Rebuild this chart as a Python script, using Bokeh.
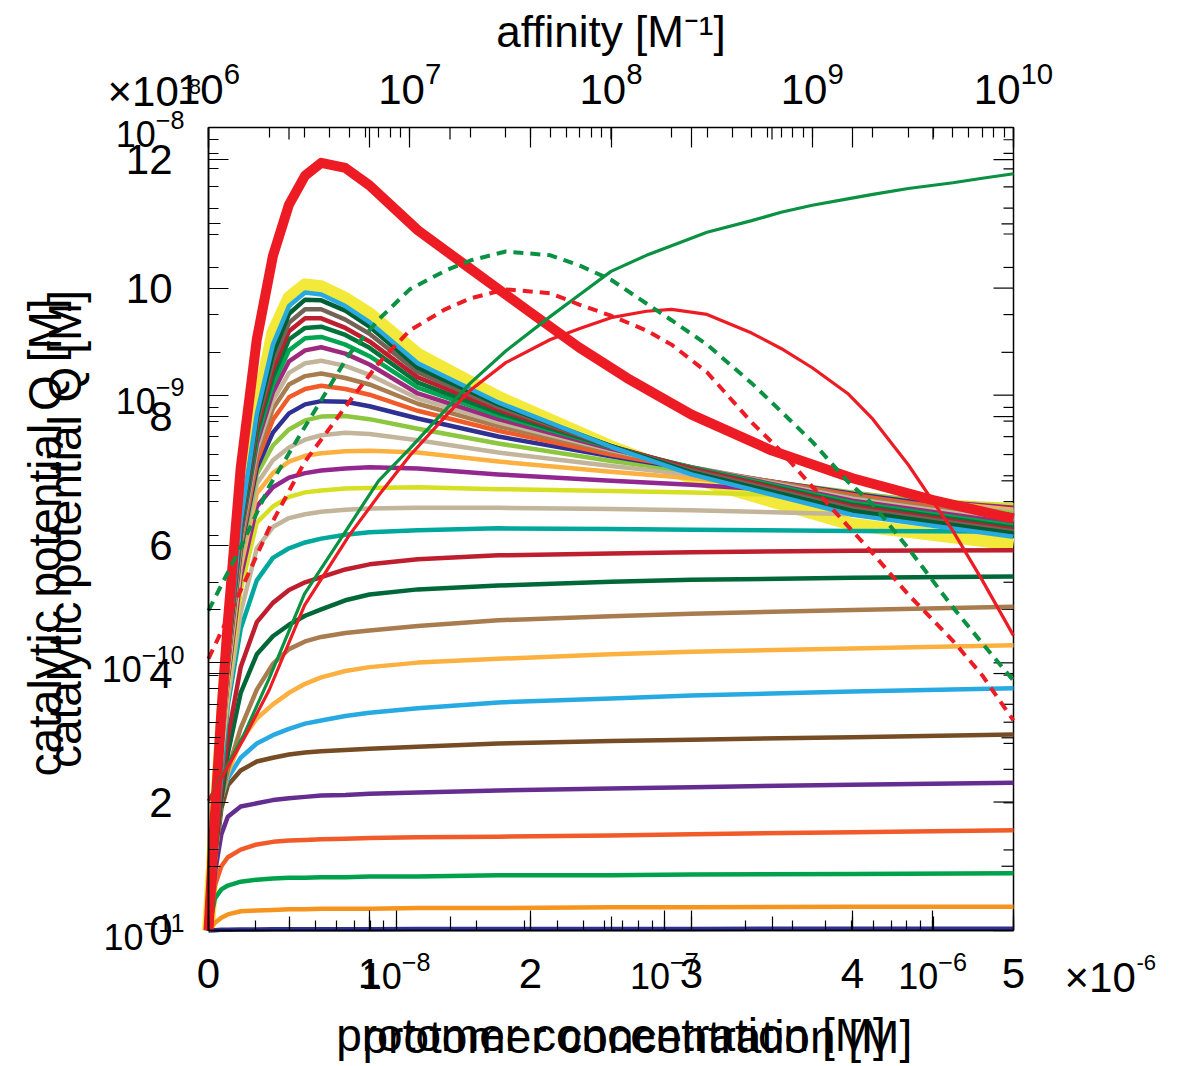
import math
from bokeh.plotting import figure
from bokeh.models import (Range1d, LogScale, LinearAxis, LogAxis, SingleIntervalTicker,
                          LogTicker, Label)
from bokeh.embed import file_html
from bokeh.resources import INLINE

# ---------------- data ----------------
# protomer concentration (bottom linear axis), units of 1e-6 M
conc = [0, 0.04, 0.08, 0.12, 0.2, 0.3, 0.4, 0.5, 0.6, 0.7, 0.85, 1.0, 1.3, 1.8, 2.5, 3.0, 4.0, 5.0]

# catalytic potential Q (left linear axis), units of 1e-8 M
# saturating curves (bottom family)
q_sat_navy    = [0, .005, .01, .012, .015, .017, .018, .019, .02, .02, .021, .021, .022, .023, .024, .025, .026, .027]
q_sat_orange  = [0, .12, .20, .25, .30, .31, .32, .33, .33, .34, .34, .34, .35, .35, .36, .36, .37, .37]
q_sat_green   = [0, .50, .64, .70, .76, .79, .81, .82, .82, .83, .83, .84, .84, .86, .86, .87, .88, .89]
q_sat_orred   = [0, .70, 1.0, 1.14, 1.26, 1.34, 1.38, 1.40, 1.41, 1.42, 1.43, 1.44, 1.45, 1.46, 1.48, 1.50, 1.53, 1.56]
q_sat_purple  = [0, .9, 1.5, 1.77, 1.93, 1.98, 2.03, 2.06, 2.08, 2.10, 2.11, 2.13, 2.15, 2.18, 2.21, 2.23, 2.27, 2.30]
q_sat_brown   = [0, 1.05, 1.9, 2.26, 2.49, 2.63, 2.69, 2.74, 2.77, 2.79, 2.81, 2.83, 2.86, 2.91, 2.95, 2.97, 3.01, 3.05]
q_sat_sky     = [0, 1.1, 2.05, 2.37, 2.69, 2.91, 3.04, 3.14, 3.22, 3.27, 3.34, 3.39, 3.46, 3.55, 3.61, 3.66, 3.72, 3.77]
q_sat_lorange = [0, 1.1, 2.05, 2.45, 2.95, 3.3, 3.52, 3.7, 3.84, 3.94, 4.04, 4.1, 4.17, 4.23, 4.30, 4.34, 4.39, 4.44]
q_sat_tbrown  = [0, 1.15, 2.05, 2.5, 3.15, 3.75, 4.15, 4.38, 4.5, 4.57, 4.63, 4.67, 4.74, 4.83, 4.89, 4.93, 4.99, 5.04]
q_sat_dgreen  = [0, 1.15, 2.05, 2.75, 3.7, 4.3, 4.58, 4.76, 4.9, 5.0, 5.14, 5.23, 5.31, 5.37, 5.43, 5.46, 5.49, 5.51]
q_sat_crimson = [0, 1.2, 2.2, 3.0, 4.1, 4.8, 5.1, 5.3, 5.42, 5.5, 5.62, 5.7, 5.78, 5.84, 5.87, 5.89, 5.91, 5.92]
q_sat_teal    = [0, 1.3, 2.4, 3.5, 4.7, 5.45, 5.8, 5.95, 6.04, 6.1, 6.16, 6.2, 6.23, 6.26, 6.25, 6.24, 6.22, 6.21]

# peaked curves (upper family), from lowest peak to highest
q_pk_tan1   = [0, 1.50, 2.70, 3.60, 4.95, 5.95, 6.28, 6.42, 6.48, 6.52, 6.55, 6.57, 6.58, 6.58, 6.56, 6.54, 6.48, 6.44]
q_pk_yg     = [0, 1.51, 2.80, 3.80, 5.30, 6.35, 6.60, 6.75, 6.82, 6.85, 6.88, 6.89, 6.90, 6.87, 6.84, 6.82, 6.75, 6.62]
q_pk_purple = [0, 1.52, 2.86, 3.90, 5.50, 6.60, 6.90, 7.05, 7.12, 7.16, 7.19, 7.21, 7.19, 7.10, 7.00, 6.94, 6.78, 6.58]
q_pk_lo     = [0, 1.53, 2.90, 4.00, 5.65, 6.80, 7.12, 7.30, 7.39, 7.43, 7.46, 7.47, 7.44, 7.30, 7.14, 7.04, 6.80, 6.55]
q_pk_tan2   = [0, 1.54, 2.94, 4.05, 5.75, 6.95, 7.32, 7.52, 7.64, 7.71, 7.75, 7.73, 7.63, 7.44, 7.23, 7.10, 6.81, 6.52]
q_pk_lg     = [0, 1.55, 2.97, 4.10, 5.85, 7.10, 7.55, 7.80, 7.94, 8.00, 8.01, 7.96, 7.81, 7.58, 7.31, 7.15, 6.82, 6.49]
q_pk_navy   = [0, 1.55, 2.99, 4.14, 5.92, 7.20, 7.75, 8.05, 8.19, 8.24, 8.23, 8.16, 7.97, 7.69, 7.38, 7.18, 6.80, 6.46]
q_pk_orred  = [0, 1.56, 3.01, 4.18, 5.98, 7.30, 7.95, 8.30, 8.43, 8.48, 8.43, 8.34, 8.09, 7.78, 7.41, 7.19, 6.78, 6.43]
q_pk_btan   = [0, 1.57, 3.02, 4.21, 6.04, 7.40, 8.12, 8.50, 8.63, 8.67, 8.60, 8.50, 8.20, 7.85, 7.46, 7.21, 6.75, 6.40]
q_pk_tan3   = [0, 1.58, 3.03, 4.24, 6.10, 7.50, 8.25, 8.68, 8.83, 8.87, 8.79, 8.65, 8.28, 7.91, 7.48, 7.21, 6.72, 6.37]
q_pk_mag    = [0, 1.59, 3.04, 4.27, 6.14, 7.58, 8.38, 8.86, 9.03, 9.08, 8.98, 8.81, 8.36, 7.96, 7.50, 7.21, 6.69, 6.34]
q_pk_green  = [0, 1.60, 3.05, 4.29, 6.18, 7.66, 8.50, 9.03, 9.22, 9.24, 9.12, 8.94, 8.45, 8.02, 7.52, 7.21, 6.66, 6.30]
q_pk_dg     = [0, 1.61, 3.06, 4.31, 6.22, 7.74, 8.62, 9.20, 9.38, 9.40, 9.27, 9.07, 8.53, 8.06, 7.53, 7.19, 6.63, 6.27]
q_pk_crimson= [0, 1.62, 3.07, 4.33, 6.26, 7.82, 8.74, 9.33, 9.53, 9.53, 9.38, 9.17, 8.61, 8.11, 7.54, 7.19, 6.60, 6.24]
q_pk_gb     = [0, 1.63, 3.08, 4.35, 6.30, 7.90, 8.86, 9.46, 9.67, 9.67, 9.51, 9.29, 8.69, 8.15, 7.54, 7.16, 6.57, 6.21]
q_pk_dg2    = [0, 1.64, 3.09, 4.37, 6.33, 7.97, 8.98, 9.60, 9.82, 9.81, 9.65, 9.40, 8.76, 8.19, 7.54, 7.13, 6.53, 6.18]
q_pk_sky    = [0, 1.64, 3.10, 4.39, 6.37, 8.04, 9.12, 9.72, 9.93, 9.90, 9.72, 9.47, 8.83, 8.22, 7.53, 7.10, 6.47, 6.13]
q_pk_yellow = [0, 1.65, 3.10, 4.40, 6.40, 8.10, 9.30, 9.85, 10.05, 10.02, 9.84, 9.60, 8.97, 8.30, 7.53, 7.05, 6.32, 6.01]

# thick red curve (own concentration samples)
conc_red = [0, 0.04, 0.08, 0.12, 0.2, 0.3, 0.4, 0.5, 0.6, 0.7, 0.85, 1.0, 1.3, 1.6, 2.0, 2.3, 2.6, 3.0, 3.5, 4.0, 4.5, 5.0]
q_red_thick = [0, 1.80, 3.40, 4.80, 7.20, 9.20, 10.5, 11.3, 11.75, 11.95, 11.87, 11.6, 10.9, 10.35, 9.62, 9.08, 8.6, 8.03, 7.47, 7.04, 6.7, 6.41]

# curves against affinity (top log axis), affinity in M^-1, Q in 1e-8 M
affinity = [1e6, 1.5e6, 2e6, 3e6, 5e6, 7e6, 1e7, 1.5e7, 2e7, 3e7, 5e7, 7e7, 1e8,
            1.5e8, 2e8, 3e8, 5e8, 7e8, 1e9, 1.5e9, 2e9, 3e9, 5e9, 7e9, 1e10]
q_aff_green_dash = [4.98, 6.07, 6.91, 7.83, 8.97, 9.51, 9.98, 10.27, 10.43, 10.57, 10.51, 10.35, 10.13,
                    9.76, 9.5, 9.12, 8.52, 8.08, 7.61, 6.99, 6.63, 5.95, 5.03, 4.47, 3.89]
q_aff_red_dash   = [4.23, 5.40, 6.26, 7.29, 8.23, 8.83, 9.34, 9.67, 9.84, 9.98, 9.92, 9.74, 9.57,
                    9.34, 9.12, 8.69, 7.91, 7.46, 6.91, 6.30, 5.87, 5.23, 4.51, 3.97, 3.27]
q_aff_green      = [2.02, 3.05, 3.92, 5.24, 6.30, 7.0, 7.5, 8.1, 8.52, 9.02, 9.56, 9.90, 10.26,
                    10.51, 10.66, 10.87, 11.05, 11.18, 11.29, 11.39, 11.46, 11.55, 11.64, 11.71, 11.78]
q_aff_red        = [2.02, 2.99, 3.74, 5.06, 6.15, 6.77, 7.39, 8.0, 8.41, 8.84, 9.2, 9.37, 9.54,
                    9.64, 9.67, 9.59, 9.30, 9.06, 8.76, 8.36, 7.96, 7.25, 6.22, 5.45, 4.59]

# ---------------- layout constants ----------------
FONT = "Liberation Sans"
W, H = 1190, 1066
FL, FR, FT, FB = 208, 1013, 127, 930      # plotting box in pixels
X_MAX, Y_MAX = 5.0, 12.5
C_LO, C_HI = 2e-9, 2e-6                   # log concentration span of the box
A_LO, A_HI = 1e6, 1e10                    # affinity span of the box
Q_LO, Q_HI = 1e-11, 1e-8                  # log Q span of the box


def dx(px):
    return (px - FL) / (FR - FL) * X_MAX


def dy(py):
    return (FB - py) / (FB - FT) * Y_MAX


def log_x_span(lo, hi):
    k = math.log10(hi / lo) / (FR - FL)
    return lo * 10 ** (-FL * k), hi * 10 ** ((W - FR) * k)


def log_y_span(lo, hi):
    k = math.log10(hi / lo) / (FB - FT)
    return lo * 10 ** (-(H - FB) * k), hi * 10 ** (FT * k)


p = figure(width=W, height=H, x_range=Range1d(dx(0), dx(W)), y_range=Range1d(dy(H), dy(0)),
           x_axis_type=None, y_axis_type=None,
           output_backend="svg", toolbar_location=None, min_border=0)
p.background_fill_color = "white"
p.border_fill_color = "white"
p.outline_line_color = None
p.grid.visible = False

p.extra_x_ranges = {"aff": Range1d(*log_x_span(A_LO, A_HI)), "logc": Range1d(*log_x_span(C_LO, C_HI))}
p.extra_x_scales = {"aff": LogScale(), "logc": LogScale()}
p.extra_y_ranges = {"logq": Range1d(*log_y_span(Q_LO, Q_HI))}
p.extra_y_scales = {"logq": LogScale()}


def style_axis(ax, size, standoff, minor_in):
    ax.axis_line_color = "black"
    ax.axis_line_width = 1.5
    ax.major_tick_in = 20
    ax.major_tick_out = 0
    ax.minor_tick_in = minor_in
    ax.minor_tick_out = 0
    ax.major_tick_line_color = "black"
    ax.minor_tick_line_color = "black"
    ax.major_tick_line_width = 1.2
    ax.minor_tick_line_width = 1.2
    ax.major_label_text_font = FONT
    ax.major_label_text_font_size = size
    ax.major_label_text_color = "black"
    ax.major_label_standoff = standoff
    ax.axis_label_text_font = FONT
    ax.axis_label_text_font_style = "normal"
    ax.axis_label_text_color = "black"


# bottom: linear concentration axis and overlaid log concentration axis
xax = LinearAxis(ticker=SingleIntervalTicker(interval=1, num_minor_ticks=2),
                 fixed_location=0, bounds=(0, X_MAX))
style_axis(xax, "42px", 28, 14)
xax.axis_label = "protomer concentration [M]"
xax.axis_label_text_font_size = "46px"
xax.axis_label_standoff = 18
p.add_layout(xax, "below")

xlog = LogAxis(x_range_name="logc", ticker=LogTicker(num_minor_ticks=10),
               fixed_location=0, bounds=(C_LO, C_HI))
style_axis(xlog, "36px", 20, 10)
p.add_layout(xlog, "below")

# left: linear Q axis and overlaid log Q axis
yax = LinearAxis(ticker=SingleIntervalTicker(interval=2, num_minor_ticks=2),
                 fixed_location=0, bounds=(0, Y_MAX))
style_axis(yax, "42px", 36, 12)
yax.axis_label = "catalytic potential Q [M]"
yax.axis_label_text_font_size = "46px"
yax.axis_label_standoff = 32
p.add_layout(yax, "left")

ylog = LogAxis(y_range_name="logq", ticker=LogTicker(num_minor_ticks=10),
               fixed_location=0, bounds=(Q_LO, Q_HI))
style_axis(ylog, "36px", 24, 10)
p.add_layout(ylog, "left")

# top: affinity axis (log)
tax = LogAxis(x_range_name="aff", ticker=LogTicker(num_minor_ticks=10),
              fixed_location=Y_MAX, bounds=(A_LO, A_HI))
style_axis(tax, "42px", 24, 10)
tax.axis_label = "affinity [M\u207b\u00b9]"
tax.axis_label_text_font_size = "44px"
tax.axis_label_standoff = 2
p.add_layout(tax, "above")

# right edge of the box and mirrored tick marks (top and right)
p.segment(x0=[X_MAX], y0=[0], x1=[X_MAX], y1=[Y_MAX], line_color="black", line_width=1.5)

lin_y_major = [float(v) for v in range(0, 13, 2)]
lin_y_minor = [float(v) for v in range(1, 13, 2)]
lin_x_major = [float(v) for v in range(0, 6)]
lin_x_minor = [v + 0.5 for v in range(0, 5)]
log_q_major = [10.0 ** e for e in range(-11, -7)]
log_q_minor = [m * 10.0 ** e for e in range(-11, -8) for m in range(2, 10)]

tick_style = dict(line_color="black", line_width=1.2, length_units="screen")
p.ray(x=[X_MAX] * len(lin_y_major), y=lin_y_major, length=20, angle=math.pi, **tick_style)
p.ray(x=[X_MAX] * len(lin_y_minor), y=lin_y_minor, length=12, angle=math.pi, **tick_style)
p.ray(x=[X_MAX] * len(log_q_major), y=log_q_major, length=20, angle=math.pi, y_range_name="logq", **tick_style)
p.ray(x=[X_MAX] * len(log_q_minor), y=log_q_minor, length=10, angle=math.pi, y_range_name="logq", **tick_style)
p.ray(x=lin_x_major, y=[Y_MAX] * len(lin_x_major), length=20, angle=-math.pi / 2, **tick_style)
p.ray(x=lin_x_minor, y=[Y_MAX] * len(lin_x_minor), length=12, angle=-math.pi / 2, **tick_style)

# ---------------- curves ----------------
p.line(conc, q_pk_yellow, line_color="#f2e93a", line_width=13, line_join="round")

saturating = [
    (q_sat_navy, "#2e3192"), (q_sat_orange, "#f7941d"), (q_sat_green, "#00a14b"),
    (q_sat_orred, "#f15a29"), (q_sat_purple, "#662d91"), (q_sat_brown, "#754c24"),
    (q_sat_sky, "#27aae1"), (q_sat_lorange, "#fbb040"), (q_sat_tbrown, "#a97c50"),
    (q_sat_dgreen, "#006838"), (q_sat_crimson, "#be1e2d"), (q_sat_teal, "#00a79d"),
]
for ys, col in saturating:
    p.line(conc, ys, line_color=col, line_width=4.5, line_join="round")

peaked = [
    (q_pk_tan1, "#c2b59b"), (q_pk_yg, "#d7df23"), (q_pk_purple, "#92278f"),
    (q_pk_lo, "#fbb040"), (q_pk_tan2, "#c2b59b"), (q_pk_lg, "#8dc63f"),
    (q_pk_navy, "#2e3192"), (q_pk_orred, "#f15a29"), (q_pk_btan, "#a97c50"),
    (q_pk_tan3, "#c2b59b"), (q_pk_mag, "#9e2a7e"), (q_pk_green, "#00a651"),
    (q_pk_dg, "#00743a"), (q_pk_crimson, "#be1e2d"), (q_pk_gb, "#736357"),
    (q_pk_dg2, "#005e34"), (q_pk_sky, "#27aae1"),
]
for ys, col in peaked:
    p.line(conc, ys, line_color=col, line_width=4.5, line_join="round")

p.line(conc_red, q_red_thick, line_color="#ed1c24", line_width=10, line_join="round")

p.line(affinity, q_aff_green, x_range_name="aff", line_color="#0a9142", line_width=3.2, line_join="round")
p.line(affinity, q_aff_red, x_range_name="aff", line_color="#ed1c24", line_width=3.2, line_join="round")
p.line(affinity, q_aff_green_dash, x_range_name="aff", line_color="#0a9142", line_width=4,
       line_dash="10 7")
p.line(affinity, q_aff_red_dash, x_range_name="aff", line_color="#ed1c24", line_width=4,
       line_dash="10 7")


# ---------------- extra texts ----------------
def label(text, x, y, size, align="left", angle=0.0):
    p.add_layout(Label(x=x, y=y, text=text, text_font=FONT, text_font_size=f"{size}px",
                       text_color="black", text_align=align, text_baseline="middle", angle=angle))


# scale factors of the linear axes
label("\u00d710", dx(107), dy(91), 42)
label("-8", dx(181), dy(86), 22)
label("\u00d710", dx(1064), dy(977), 42)
label("-6", dx(1136), dy(962), 22)

# second (offset) copies of the axis titles
label("protomer concentration [M]", dx(362), dy(1036), 46)
label("catalytic potential Q [M]", dx(44), dy(537), 46, align="center", angle=math.pi / 2)

open("out.html", "w").write(file_html(p, INLINE))
